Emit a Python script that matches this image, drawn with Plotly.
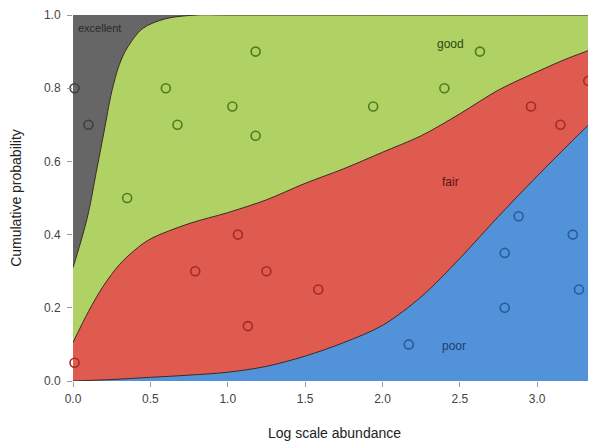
import plotly.graph_objects as go

# ---- data ----
# boundary excellent / good
ex_x = [0.0, 0.05, 0.1, 0.15, 0.2, 0.25, 0.3, 0.35, 0.45, 0.6, 0.8, 1.0, 3.38]
ex_y = [0.31, 0.38, 0.46, 0.57, 0.68, 0.79, 0.865, 0.91, 0.963, 0.99, 1.0, 1.0, 1.0]
# boundary good / fair
gd_x = [0.0, 0.1, 0.2, 0.3, 0.4, 0.5, 0.75, 1.0, 1.25, 1.5, 1.75, 2.0, 2.25, 2.5, 2.75, 3.0, 3.2, 3.38]
gd_y = [0.105, 0.19, 0.262, 0.318, 0.358, 0.388, 0.43, 0.46, 0.495, 0.54, 0.58, 0.625, 0.67, 0.73, 0.795, 0.845, 0.882, 0.91]
# boundary fair / poor
fr_x = [0.0, 0.25, 0.5, 0.75, 1.0, 1.25, 1.5, 1.75, 2.0, 2.25, 2.5, 2.75, 3.0, 3.2, 3.38]
fr_y = [0.0, 0.004, 0.01, 0.016, 0.024, 0.04, 0.068, 0.105, 0.152, 0.23, 0.335, 0.45, 0.56, 0.645, 0.72]

# observations
exc_px = [0.01, 0.10]
exc_py = [0.80, 0.70]
good_px = [0.35, 0.60, 0.675, 1.03, 1.18, 1.18, 1.94, 2.40, 2.63]
good_py = [0.50, 0.80, 0.70, 0.75, 0.90, 0.67, 0.75, 0.80, 0.90]
fair_px = [0.01, 0.79, 1.066, 1.25, 1.13, 1.585, 2.96, 3.15, 3.33]
fair_py = [0.05, 0.30, 0.40, 0.30, 0.15, 0.25, 0.75, 0.70, 0.82]
poor_px = [2.17, 2.79, 2.79, 2.88, 3.23, 3.27]
poor_py = [0.10, 0.20, 0.35, 0.45, 0.40, 0.25]

x_ticks = [0.0, 0.5, 1.0, 1.5, 2.0, 2.5, 3.0]
y_ticks = [0.0, 0.2, 0.4, 0.6, 0.8, 1.0]

GRAY = "#666666"
GREEN = "#b0d163"
RED = "#df5b50"
BLUE = "#5292d9"
EDGE = "#3b2b22"

fig = go.Figure()

for xs, ys, col in [(ex_x, ex_y, GREEN), (gd_x, gd_y, RED), (fr_x, fr_y, BLUE)]:
    fig.add_trace(go.Scatter(
        x=xs, y=ys, mode="lines", fill="tozeroy", fillcolor=col,
        line=dict(color=EDGE, width=1, shape="spline", smoothing=0.9),
        hoverinfo="skip", showlegend=False))

for xs, ys, col in [(exc_px, exc_py, "#3f3f3f"), (good_px, good_py, "#4d7d1f"),
                    (fair_px, fair_py, "#a52a26"), (poor_px, poor_py, "#2a5b9a")]:
    fig.add_trace(go.Scatter(
        x=xs, y=ys, mode="markers",
        marker=dict(symbol="circle-open", size=9, color=col, line=dict(width=1.6, color=col)),
        showlegend=False, cliponaxis=False))

font = "Arial, Liberation Sans, sans-serif"
annos = [
    dict(x=0.02, y=0.965, text="excellent", xanchor="left", color="#2a2a2a", size=11),
    dict(x=2.44, y=0.92, text="good", xanchor="center", color="#2a4a10", size=12),
    dict(x=2.44, y=0.545, text="fair", xanchor="center", color="#5a1410", size=12),
    dict(x=2.46, y=0.095, text="poor", xanchor="center", color="#1b3f6e", size=12),
]
for a in annos:
    fig.add_annotation(x=a["x"], y=a["y"], text=a["text"], showarrow=False,
                       xanchor=a["xanchor"], yanchor="middle",
                       font=dict(family=font, size=a["size"], color=a["color"]))

# the page adds an 8px body margin, so the figure is sized to 588x436
fig.update_layout(
    width=588, height=436,
    margin=dict(l=65, r=0, t=7, b=63),
    paper_bgcolor="white", plot_bgcolor=GRAY,
    font=dict(family=font, size=12, color="#444444"),
    xaxis=dict(range=[0, 3.38], tickvals=x_ticks, tickformat=".1f",
               automargin=False, ticklabeloverflow="allow",
               showgrid=False, zeroline=False, showline=False,
               ticks="outside", ticklen=5, tickcolor="#999999",
               ticklabelstandoff=2,
               tickfont=dict(size=12, color="#444444"),
               title=dict(text="Log scale abundance", standoff=22,
                          font=dict(size=14, color="#222222"))),
    yaxis=dict(range=[0, 1], tickvals=y_ticks, tickformat=".1f",
               automargin=False, ticklabeloverflow="allow",
               showgrid=False, zeroline=False, showline=False,
               ticks="outside", ticklen=5, tickcolor="#999999",
               ticklabelstandoff=4,
               tickfont=dict(size=12, color="#444444"),
               title=dict(text="Cumulative probability", standoff=20,
                          font=dict(size=14, color="#222222"))),
)

fig.write_html("out.html")
